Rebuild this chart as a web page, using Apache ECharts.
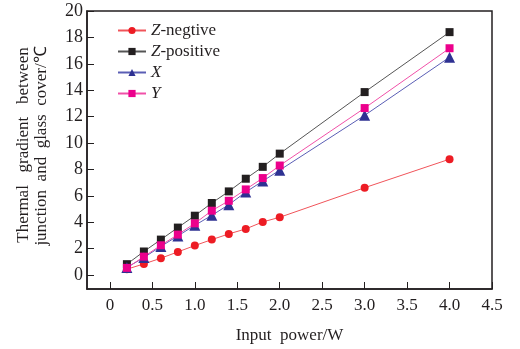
<!DOCTYPE html>
<html>
<head>
<meta charset="utf-8">
<script src="https://cdn.jsdelivr.net/npm/echarts@6/dist/echarts.min.js"></script>
<style>
  html, body { margin: 0; padding: 0; background: #fff; }
  #chart { width: 520px; height: 349px; }
</style>
</head>
<body>
<div id="chart"></div>
<script>
// input power (W)
const powers = [0.2, 0.4, 0.6, 0.8, 1.0, 1.2, 1.4, 1.6, 1.8, 2.0, 3.0, 4.0];
// thermal gradient (degC) per orientation
const zNegative = [0.45, 0.85, 1.28, 1.76, 2.24, 2.69, 3.12, 3.5, 4.03, 4.38, 6.62, 8.78];
const zPositive = [0.83, 1.79, 2.69, 3.6, 4.5, 5.46, 6.34, 7.3, 8.2, 9.2, 13.86, 18.4];
const xDir = [0.58, 1.33, 2.17, 2.97, 3.77, 4.53, 5.33, 6.29, 7.12, 7.95, 12.1, 16.5];
const yDir = [0.55, 1.4, 2.26, 3.07, 3.92, 4.88, 5.63, 6.49, 7.35, 8.3, 12.65, 17.18];
// tick labels
const xTicks = [0, 0.5, 1.0, 1.5, 2.0, 2.5, 3.0, 3.5, 4.0, 4.5];
const yTicks = [0, 2, 4, 6, 8, 10, 12, 14, 16, 18, 20];

const font = "Liberation Serif";
const ink = "#231f20";
const pair = (ys) => powers.map((p, i) => [p, ys[i]]);

const chart = echarts.init(document.getElementById("chart"));

// y axis title is two rotated lines, placed by hand to match the spread-out look
const yTitle = (text, x, y) => ({
  type: "text",
  x: x, y: y,
  rotation: Math.PI / 2,
  style: {
    text: text, fontFamily: font, fontSize: 17, fill: ink,
    align: "center", verticalAlign: "middle",
  },
});

chart.setOption({
  animation: false,
  textStyle: { fontFamily: font, color: ink },
  grid: {
    left: 87, right: 28, top: 11, bottom: 59,
    show: true, borderColor: ink, borderWidth: 1.5,
  },
  graphic: [
    yTitle("Thermal   gradient   between", 24, 145),
    yTitle("junction  and  glass  cover/℃", 42, 146),
  ],
  legend: {
    orient: "vertical",
    left: 112, top: 17,
    itemWidth: 28, itemHeight: 9, itemGap: 4,
    textStyle: {
      fontFamily: font, fontSize: 17, color: ink,
      rich: { i: { fontFamily: font, fontSize: 17, fontStyle: "italic", color: ink } },
    },
    formatter: (name) => {
      const m = name.match(/^([ZXY])(.*)$/);
      return "{i|" + m[1] + "}" + m[2];
    },
  },
  xAxis: {
    type: "value",
    min: -0.27, max: 4.5,
    name: "Input  power/W",
    nameLocation: "middle",
    nameGap: 38,
    nameTextStyle: { fontFamily: font, fontSize: 17, color: ink },
    axisLine: { onZero: false, lineStyle: { color: ink, width: 1.5 } },
    axisTick: { inside: true, length: 7, customValues: xTicks, lineStyle: { color: ink } },
    axisLabel: {
      customValues: xTicks, fontFamily: font, fontSize: 17, color: ink, margin: 8,
      formatter: (v) => (v === 0 ? "0" : v.toFixed(1)),
    },
    splitLine: { show: false },
  },
  yAxis: {
    type: "value",
    min: -1.05, max: 20,
    axisLine: { onZero: false, lineStyle: { color: ink, width: 1.5 } },
    axisTick: { inside: true, length: 7, customValues: yTicks, lineStyle: { color: ink } },
    axisLabel: { customValues: yTicks, fontFamily: font, fontSize: 18, color: ink, margin: 4 },
    splitLine: { show: false },
  },
  series: [
    {
      name: "Z-negtive", type: "line", data: pair(zNegative),
      symbol: "circle", symbolSize: 8,
      itemStyle: { color: "#ed1c24" },
      lineStyle: { color: "#f0545a", width: 1 },
    },
    {
      name: "Z-positive", type: "line", data: pair(zPositive),
      symbol: "rect", symbolSize: 8,
      itemStyle: { color: ink },
      lineStyle: { color: "#555", width: 1 },
    },
    {
      name: "X", type: "line", data: pair(xDir),
      symbol: "triangle", symbolSize: 11,
      itemStyle: { color: "#2e3192" },
      lineStyle: { color: "#5a5eb5", width: 1 },
    },
    {
      name: "Y", type: "line", data: pair(yDir),
      symbol: "rect", symbolSize: 8,
      itemStyle: { color: "#ec008c" },
      lineStyle: { color: "#f050a8", width: 1 },
    },
  ],
});
</script>
</body>
</html>
